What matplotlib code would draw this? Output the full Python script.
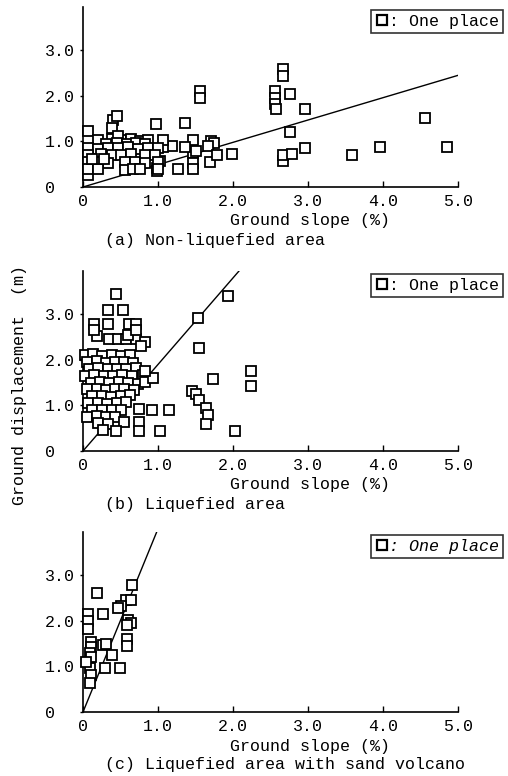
import matplotlib
matplotlib.use("Agg")
import matplotlib.pyplot as plt
from matplotlib.lines import Line2D

plt.rcParams['font.family'] = ['Liberation Mono', 'DejaVu Sans Mono']
plt.rcParams['font.size'] = 12

# (a) Non-liquefied area: ground slope (%), ground displacement (m)
A_X = [0.07, 0.07, 0.40, 0.45, 0.38, 0.97, 1.36, 1.56, 1.56, 1.47, 1.47, 1.47, 1.47,
       1.27, 1.36, 1.50, 1.70, 1.74, 1.66, 1.69, 1.78, 1.98, 1.02, 0.98, 0.98, 1.18,
       1.07, 1.07, 2.67, 2.67, 2.56, 2.56, 2.56, 2.57, 2.76, 2.96, 2.76, 2.96, 2.67,
       2.67, 2.78, 3.58, 3.96, 4.56, 4.85,
       0.20, 0.38, 0.51, 0.64, 0.76, 0.87, 0.47,
       0.30, 0.45, 0.58, 0.70, 0.82,
       0.07, 0.20, 0.33, 0.47, 0.60, 0.73, 0.87, 1.00,
       0.07, 0.24, 0.38, 0.51, 0.64, 0.82, 0.96,
       0.07, 0.18, 0.33, 0.56, 0.69, 0.82, 1.00,
       0.07, 0.20, 0.56, 0.67, 0.76, 1.00, 0.12, 0.28]
A_Y = [1.22, 0.27, 1.46, 1.55, 1.30, 1.38, 1.40, 2.10, 1.95, 1.03, 0.75, 0.52, 0.40,
       0.40, 0.88, 0.78, 1.02, 0.97, 0.90, 0.55, 0.70, 0.72, 0.56, 0.42, 0.36, 0.90,
       0.88, 1.03, 2.60, 2.44, 2.10, 1.95, 1.82, 1.72, 2.05, 1.72, 1.20, 0.85, 0.57,
       0.70, 0.72, 0.70, 0.87, 1.52, 0.88,
       1.04, 1.05, 1.03, 1.05, 1.02, 1.04, 1.12,
       0.95, 0.96, 0.94, 0.97, 0.95,
       0.86, 0.84, 0.86, 0.85, 0.87, 0.84, 0.86, 0.85,
       0.71, 0.72, 0.70, 0.71, 0.73, 0.70, 0.71,
       0.54, 0.55, 0.53, 0.54, 0.55, 0.53, 0.54,
       0.39, 0.40, 0.38, 0.40, 0.39, 0.40, 0.62, 0.62]
A_LINE_X = [0.0, 5.0]
A_LINE_Y = [0.0, 2.45]

# (b) Liquefied area
B_X = [0.44, 0.33, 0.53, 0.15, 0.33, 0.61, 0.70, 0.18, 0.15, 0.35, 0.46, 0.57, 0.70,
       0.83, 0.77, 0.60, 0.70,
       0.03, 0.13, 0.25, 0.38, 0.50, 0.62,
       0.05, 0.18, 0.30, 0.42, 0.55, 0.67,
       0.08, 0.20, 0.33, 0.45, 0.57, 0.70,
       0.03, 0.15, 0.28, 0.40, 0.52, 0.65, 0.80,
       0.10, 0.22, 0.35, 0.48, 0.60, 0.73, 0.83,
       0.05, 0.18, 0.30, 0.42, 0.55, 0.68,
       0.12, 0.25, 0.37, 0.50, 0.62,
       0.07, 0.20, 0.32, 0.45, 0.57,
       0.12, 0.25, 0.38, 0.50, 0.75, 0.92, 1.14,
       0.05, 0.18, 0.30, 0.42,
       0.20, 0.33, 0.55, 0.75,
       0.26, 0.44, 0.75, 1.03,
       0.93, 0.83, 1.93, 1.53, 1.54, 1.73, 2.24, 2.24, 1.45, 1.50, 1.55, 1.64,
       1.66, 1.64, 2.03]
B_Y = [3.44, 3.10, 3.10, 2.78, 2.78, 2.78, 2.78, 2.52, 2.65, 2.45, 2.45, 2.45, 2.45,
       2.40, 2.30, 2.55, 2.65,
       2.10, 2.12, 2.08, 2.11, 2.09, 2.10,
       1.95, 1.97, 1.94, 1.96, 1.95, 1.93,
       1.80, 1.82, 1.79, 1.81, 1.80, 1.82,
       1.65, 1.66, 1.64, 1.65, 1.67, 1.64, 1.66,
       1.50, 1.52, 1.49, 1.51, 1.50, 1.48, 1.52,
       1.35, 1.36, 1.34, 1.35, 1.37, 1.34,
       1.20, 1.21, 1.19, 1.20, 1.22,
       1.05, 1.06, 1.04, 1.05, 1.07,
       0.90, 0.91, 0.89, 0.90, 0.92, 0.90, 0.90,
       0.75, 0.76, 0.74, 0.75,
       0.62, 0.60, 0.63, 0.63,
       0.45, 0.43, 0.43, 0.43,
       1.60, 1.75, 3.40, 2.91, 2.26, 1.58, 1.75, 1.42, 1.31, 1.25, 1.12, 0.94,
       0.79, 0.59, 0.43]
B_LINE_X = [0.0, 2.08]
B_LINE_Y = [0.0, 3.95]

# (c) Liquefied area with sand volcano
C_X = [0.65, 0.18, 0.57, 0.64, 0.51, 0.46, 0.27, 0.60, 0.64, 0.58, 0.07, 0.07, 0.07,
       0.11, 0.11, 0.09, 0.11, 0.27, 0.31, 0.58, 0.58, 0.38, 0.09, 0.11, 0.09, 0.29,
       0.49, 0.04]
C_Y = [2.78, 2.62, 2.45, 2.45, 2.32, 2.28, 2.14, 2.02, 1.95, 1.90, 2.14, 2.00, 1.82,
       1.53, 1.42, 1.30, 1.20, 1.48, 1.50, 1.60, 1.45, 1.26, 0.97, 0.82, 0.64, 0.97,
       0.96, 1.10]
C_LINE_X = [0.0, 0.99]
C_LINE_Y = [0.0, 3.98]

X_TICKS = [0, 1, 2, 3, 4, 5]
X_TICK_LABELS = ["0", "1.0", "2.0", "3.0", "4.0", "5.0"]
Y_TICKS = [0, 1, 2, 3]
Y_TICK_LABELS = ["0  ", "1.0", "2.0", "3.0"]

PANELS = [
    (A_X, A_Y, A_LINE_X, A_LINE_Y, "(a) Non-liquefied area", 187, "normal"),
    (B_X, B_Y, B_LINE_X, B_LINE_Y, "(b) Liquefied area", 451, "normal"),
    (C_X, C_Y, C_LINE_X, C_LINE_Y, "(c) Liquefied area with sand volcano", 712, "italic"),
]

W, H = 508, 776
fig = plt.figure(figsize=(W / 100, H / 100), dpi=100)

for xs, ys, lx, ly, caption, base, style in PANELS:
    ax = fig.add_axes([83 / W, (H - base) / H, 375 / W, 180 / H])
    ax.plot(lx, ly, color="black", lw=1.0, zorder=2)
    ax.plot(xs, ys, ls="", marker="s", ms=7.5, mfc="white", mec="black", mew=1.3,
            zorder=3, clip_on=False)
    ax.set_xlim(0, 5.0)
    ax.set_ylim(0, 3.95)
    for s in ["top", "right"]:
        ax.spines[s].set_visible(False)
    for s in ["left", "bottom"]:
        ax.spines[s].set_linewidth(1.2)
    ax.set_xticks(X_TICKS)
    ax.set_xticklabels(X_TICK_LABELS)
    ax.set_yticks(Y_TICKS)
    ax.set_yticklabels(Y_TICK_LABELS)
    ax.tick_params(axis="x", direction="in", length=4, width=1, pad=5)
    ax.tick_params(axis="y", direction="out", length=2, width=1, pad=4)

    fig.text(310 / W, 1 - (base + 34) / H, "Ground slope (%)", ha="center", va="center")
    fig.text(105 / W, 1 - (base + 53) / H, caption, ha="left", va="center")

    handle = Line2D([], [], ls="", marker="s", ms=7, mfc="white", mec="black", mew=1.6)
    leg = ax.legend([handle], [": One place"], loc="upper right",
                    bbox_to_anchor=(503 / W, 1 - (base - 177) / H),
                    bbox_transform=fig.transFigure, frameon=True, fancybox=False,
                    handlelength=0.8, handletextpad=0.0, borderpad=0.25,
                    borderaxespad=0.0, prop={"style": style})
    leg.get_frame().set_edgecolor("black")
    leg.get_frame().set_linewidth(1.2)

fig.text(20 / W, 1 - 385 / H, "Ground displacement  (m)", rotation=90,
         ha="center", va="center")

fig.savefig("out.png", dpi=100)
